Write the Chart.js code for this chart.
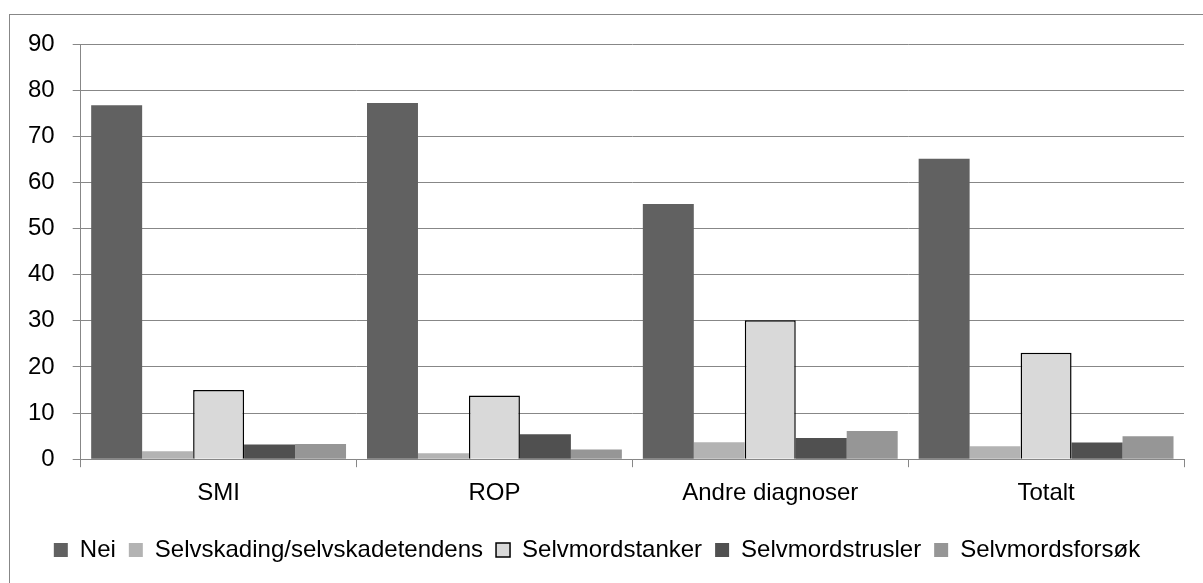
<!DOCTYPE html>
<html>
<head>
<meta charset="utf-8">
<script src="https://cdn.jsdelivr.net/npm/chart.js@4/dist/chart.umd.min.js"></script>
<style>
  html, body { margin: 0; padding: 0; background: #fff; overflow: hidden; }
  #frame {
    position: absolute; left: 9px; top: 14px;
    width: 1300px; height: 700px;
    border-left: 1px solid #878787; border-top: 1px solid #878787;
  }
  #graphCanvas { position: absolute; left: 0; top: 0; }
</style>
</head>
<body>
<div id="frame"></div>
<canvas id="graphCanvas"></canvas>
<script>
var categories = ['SMI', 'ROP', 'Andre diagnoser', 'Totalt'];
var nei = [76.7, 77.2, 55.3, 65.1];
var selvskading = [1.7, 1.3, 3.7, 2.8];
var selvmordstanker = [15.0, 13.8, 30.1, 23.1];
var selvmordstrusler = [3.2, 5.4, 4.6, 3.6];
var selvmordsforsok = [3.3, 2.1, 6.1, 5.0];
var yTicks = [0, 10, 20, 30, 40, 50, 60, 70, 80, 90];

var fontFam = "'Liberation Sans', Arial, sans-serif";

var chartdata = {
    labels: categories,
    datasets: [{
        label: 'Nei',
        backgroundColor: '#616161',
        borderWidth: 0,
        data: nei
    }, {
        label: 'Selvskading/selvskadetendens',
        backgroundColor: '#b3b3b3',
        borderWidth: 0,
        data: selvskading
    }, {
        label: 'Selvmordstanker',
        backgroundColor: '#d9d9d9',
        borderColor: '#000000',
        borderWidth: 1.5,
        data: selvmordstanker
    }, {
        label: 'Selvmordstrusler',
        backgroundColor: '#505050',
        borderWidth: 0,
        data: selvmordstrusler
    }, {
        label: 'Selvmordsforsøk',
        backgroundColor: '#969696',
        borderWidth: 0,
        data: selvmordsforsok
    }]
};

var graphTarget = document.getElementById('graphCanvas');
graphTarget.width = 1203;
graphTarget.height = 583;

var barGraph = new Chart(graphTarget, {
    type: 'bar',
    data: chartdata,
    options: {
        responsive: false,
        animation: false,
        layout: { padding: { left: 10, right: 19, top: 44, bottom: 11 } },
        datasets: { bar: { categoryPercentage: 0.924, barPercentage: 1.0 } },
        plugins: {
            tooltip: { enabled: false },
            legend: {
                position: 'bottom',
                labels: {
                    boxWidth: 14, boxHeight: 14, padding: 13,
                    color: '#000', font: { family: fontFam, size: 24 }
                }
            }
        },
        scales: {
            x: {
                afterFit: function(scale) { scale.height += 5; },
                grid: { display: true, drawOnChartArea: false, drawTicks: true, offset: true, tickLength: 8, color: '#878787' },
                border: { color: '#878787', width: 1 },
                ticks: { color: '#000', font: { family: fontFam, size: 24 }, padding: 12 }
            },
            y: {
                min: 0, max: 90,
                afterBuildTicks: function(axis) { axis.ticks = yTicks.map(function(v) { return { value: v }; }); },
                grid: { color: '#878787', lineWidth: 1, tickLength: 8 },
                border: { color: '#878787', width: 1 },
                ticks: { color: '#000', font: { family: fontFam, size: 24 }, padding: 18 }
            }
        }
    }
});
</script>
</body>
</html>
